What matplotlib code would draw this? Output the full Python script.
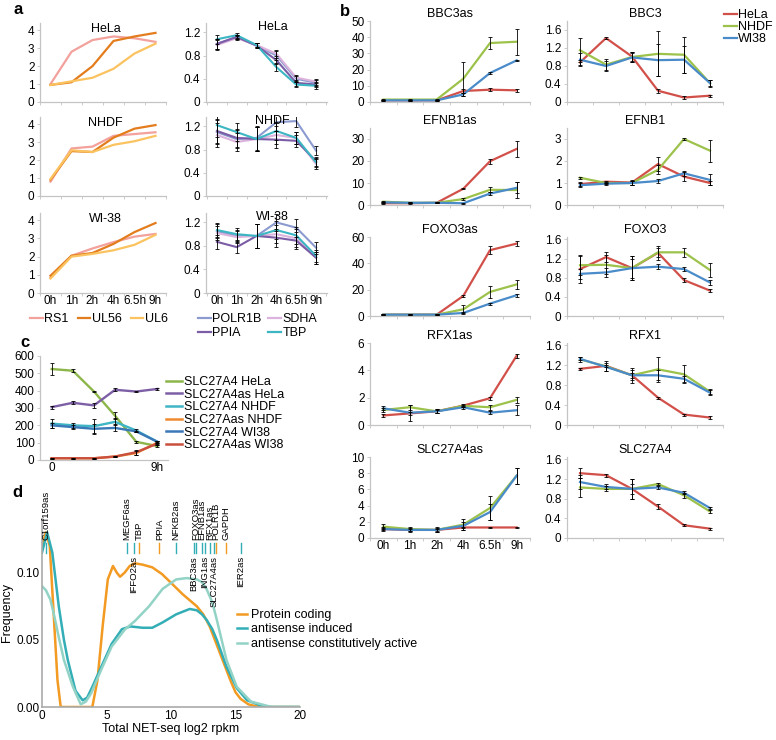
import matplotlib
matplotlib.use('Agg')
import matplotlib.pyplot as plt
from matplotlib.lines import Line2D
import numpy as np

plt.rcParams['font.family'] = ['Liberation Sans', 'DejaVu Sans']
plt.rcParams['font.size'] = 8.5

W, H = 776, 740
times = ['0h', '1h', '2h', '4h', '6.5h', '9h']
xs = np.arange(6)

# ---- panel a : viral genes (left) and housekeeping genes (right)
cells_a = ['HeLa', 'NHDF', 'WI-38']
viral_names = ['RS1', 'UL56', 'UL6']
viral_colors = ['#f3a19c', '#e37c1c', '#fbc35f']
rs1 = [[1.0, 2.8, 3.45, 3.65, 3.55, 3.35],
       [0.8, 2.65, 2.75, 3.35, 3.45, 3.55],
       [0.85, 2.05, 2.45, 2.8, 3.1, 3.25]]
ul56 = [[0.95, 1.1, 2.0, 3.4, 3.65, 3.85],
        [0.9, 2.5, 2.45, 3.25, 3.75, 3.95],
        [0.95, 2.05, 2.2, 2.7, 3.35, 3.85]]
ul6 = [[0.95, 1.15, 1.35, 1.85, 2.7, 3.25],
       [0.95, 2.55, 2.45, 2.85, 3.05, 3.35],
       [0.8, 2.0, 2.15, 2.35, 2.65, 3.2]]

hk_names = ['POLR1B', 'SDHA', 'PPIA', 'TBP']
hk_colors = ['#8b9bd0', '#dbb3dc', '#7b5ca6', '#3cb6c3']
polr1b = [[1.0, 1.12, 0.97, 0.8, 0.4, 0.33],
          [1.1, 0.98, 1.0, 1.27, 1.29, 0.78],
          [1.05, 0.97, 0.97, 1.2, 1.11, 0.77]]
sdha = [[0.98, 1.1, 0.98, 0.83, 0.42, 0.35],
        [1.05, 0.93, 0.98, 1.05, 1.0, 0.55],
        [1.02, 0.95, 0.97, 1.0, 0.93, 0.6]]
ppia = [[1.0, 1.12, 0.97, 0.72, 0.33, 0.3],
        [1.12, 1.0, 0.98, 0.97, 0.95, 0.6],
        [0.87, 0.78, 0.97, 0.94, 0.89, 0.6]]
tbp = [[1.08, 1.15, 0.98, 0.6, 0.3, 0.28],
       [1.22, 1.1, 0.98, 1.12, 1.0, 0.58],
       [1.07, 1.0, 0.97, 1.07, 0.98, 0.63]]
hk_err = [[0.08, 0.04, 0.04, 0.07, 0.05, 0.05],
          [0.2, 0.15, 0.2, 0.15, 0.1, 0.08],
          [0.12, 0.1, 0.2, 0.15, 0.15, 0.1]]

# ---- panel b : antisense (left) and sense (right) per cell line
genes_as = ['BBC3as', 'EFNB1as', 'FOXO3as', 'RFX1as', 'SLC27A4as']
genes_s = ['BBC3', 'EFNB1', 'FOXO3', 'RFX1', 'SLC27A4']
lines_b = ['HeLa', 'NHDF', 'WI38']
colors_b = ['#d2504a', '#9dc24b', '#4a8bc9']

hela_b = {'BBC3as': [1, 1, 1, 6.8, 7.6, 7.2],
          'EFNB1as': [0.8, 0.8, 1, 7.4, 19.9, 25.5],
          'FOXO3as': [1, 1, 1, 15.3, 50, 55],
          'RFX1as': [0.7, 0.85, 1.0, 1.42, 1.96, 5.07],
          'SLC27A4as': [1.1, 1.0, 1.0, 1.3, 1.3, 1.3],
          'BBC3': [0.88, 1.42, 1.01, 0.25, 0.1, 0.14],
          'EFNB1': [0.95, 1.06, 1.02, 1.86, 1.29, 1.0],
          'FOXO3': [0.98, 1.23, 1.0, 1.32, 0.75, 0.53],
          'RFX1': [1.13, 1.19, 1.0, 0.55, 0.21, 0.15],
          'SLC27A4': [1.32, 1.28, 1.0, 0.64, 0.26, 0.19]}
nhdf_b = {'BBC3as': [1.5, 1.5, 1.5, 14.4, 36.4, 37.2],
          'EFNB1as': [1.5, 1.0, 1.0, 2.7, 6.9, 6.8],
          'FOXO3as': [1, 1, 1, 5.1, 18.3, 24],
          'RFX1as': [1.1, 1.3, 1.0, 1.4, 1.3, 1.84],
          'SLC27A4as': [1.4, 1.1, 1.0, 1.65, 3.7, 7.7],
          'BBC3': [1.15, 0.83, 1.0, 1.07, 1.05, 0.42],
          'EFNB1': [1.24, 1.0, 1.0, 1.6, 3.0, 2.47],
          'FOXO3': [1.06, 1.07, 1.0, 1.33, 1.33, 0.96],
          'RFX1': [1.32, 1.18, 1.0, 1.12, 1.02, 0.67],
          'SLC27A4': [1.03, 1.0, 1.0, 1.1, 0.87, 0.54]}
wi38_b = {'BBC3as': [1, 1, 1, 4.7, 17.9, 25.7],
          'EFNB1as': [1.2, 1.0, 1.0, 0.8, 5.2, 7.8],
          'FOXO3as': [1, 1, 1, 2.3, 9.4, 15.8],
          'RFX1as': [1.22, 0.9, 1.0, 1.3, 0.9, 1.08],
          'SLC27A4as': [1.1, 1.0, 1.0, 1.5, 3.2, 7.7],
          'BBC3': [0.94, 0.8, 0.99, 0.93, 0.94, 0.42],
          'EFNB1': [0.9, 0.97, 1.0, 1.09, 1.44, 1.14],
          'FOXO3': [0.88, 0.91, 1.0, 1.03, 0.98, 0.7],
          'RFX1': [1.33, 1.17, 1.0, 1.0, 0.93, 0.65],
          'SLC27A4': [1.14, 1.04, 1.0, 1.03, 0.92, 0.61]}

hela_err = {'BBC3as': [0.3, 0.3, 0.3, 1.5, 1, 0.8],
            'EFNB1as': [0.5, 0.3, 0.3, 0.3, 1.2, 3.5],
            'FOXO3as': [0.3, 0.3, 0.3, 0.5, 3, 2],
            'RFX1as': [0.1, 0.1, 0.1, 0.1, 0.1, 0.15],
            'SLC27A4as': [0.1, 0.1, 0.1, 0.1, 0.1, 0.1],
            'BBC3': [0.05, 0.02, 0.1, 0.05, 0.03, 0.02],
            'EFNB1': [0.1, 0.05, 0.1, 0.3, 0.2, 0.1],
            'FOXO3': [0.3, 0.1, 0.25, 0.15, 0.05, 0.03],
            'RFX1': [0.02, 0.02, 0.05, 0.02, 0.02, 0.03],
            'SLC27A4': [0.1, 0.03, 0.2, 0.05, 0.02, 0.02]}
nhdf_err = {'BBC3as': [0.5, 0.5, 0.5, 10.5, 3.5, 8],
            'EFNB1as': [0.5, 0.3, 0.3, 0.5, 1.2, 3.5],
            'FOXO3as': [0.3, 0.3, 0.3, 3, 4.5, 3.5],
            'RFX1as': [0.15, 0.2, 0.15, 0.1, 0.2, 0.2],
            'SLC27A4as': [0.3, 0.2, 0.3, 0.7, 1.5, 1],
            'BBC3': [0.27, 0.12, 0.1, 0.5, 0.4, 0.08],
            'EFNB1': [0.05, 0.05, 0.1, 0.2, 0.05, 0.5],
            'FOXO3': [0.2, 0.2, 0.2, 0.1, 0.1, 0.15],
            'RFX1': [0.05, 0.1, 0.15, 0.25, 0.18, 0.05],
            'SLC27A4': [0.2, 0.05, 0.2, 0.03, 0.05, 0.03]}
wi38_err = {'BBC3as': [0.3, 0.3, 0.3, 1, 0.5, 0.5],
            'EFNB1as': [0.3, 0.2, 0.2, 0.2, 0.8, 2.5],
            'FOXO3as': [0.3, 0.3, 0.3, 0.5, 0.8, 1],
            'RFX1as': [0.15, 0.6, 0.15, 0.1, 0.1, 0.35],
            'SLC27A4as': [0.2, 0.2, 0.2, 0.5, 1, 1],
            'BBC3': [0.15, 0.12, 0.1, 0.35, 0.3, 0.06],
            'EFNB1': [0.1, 0.05, 0.1, 0.1, 0.1, 0.25],
            'FOXO3': [0.1, 0.1, 0.25, 0.05, 0.05, 0.06],
            'RFX1': [0.03, 0.08, 0.1, 0.1, 0.06, 0.05],
            'SLC27A4': [0.15, 0.05, 0.1, 0.03, 0.03, 0.02]}

ylims_as = [(0, 50, 10), (0, 35, 10), (0, 60, 20), (0, 6, 2), (0, 10, 2)]
ylims_s = [(0, 1.8, 0.4), (0, 3.5, 1), (0, 1.65, 0.4), (0, 1.65, 0.4), (0, 1.65, 0.4)]

# ---- panel c : SLC27A4 NET-seq counts
c_names = ['SLC27A4 HeLa', 'SLC27A4as HeLa', 'SLC27A4 NHDF',
           'SLC27Aas NHDF', 'SLC27A4 WI38', 'SLC27A4as WI38']
c_colors = ['#8db64a', '#7d5fa6', '#3fb5c5', '#f08a30', '#3a78b8', '#c9503f']
c_vals = [[525, 515, 395, 255, 105, 80],
          [305, 330, 315, 405, 395, 410],
          [210, 200, 195, 220, 170, 105],
          [10, 10, 10, 20, 40, 100],
          [200, 190, 180, 185, 165, 105],
          [10, 10, 10, 20, 45, 95]]
c_err = [[35, 10, 5, 20, 5, 5],
         [8, 8, 15, 8, 5, 8],
         [25, 15, 40, 20, 10, 5],
         [3, 3, 3, 5, 10, 10],
         [15, 10, 30, 20, 5, 5],
         [3, 3, 3, 5, 15, 10]]

# ---- panel d : density of total NET-seq
d_x_pc = [0, 0.3, 0.6, 0.9, 1.2, 1.45, 2, 3, 3.9, 4.3, 4.7, 5.1, 5.5, 5.8, 6.05, 6.4, 6.8, 7.2,
          7.8, 8.55, 9.3, 10, 10.9, 12, 12.5, 13, 13.4, 13.8, 14.2, 14.6, 15, 15.4, 16, 16.4, 17, 20]
d_y_pc = [0.12, 0.13, 0.12, 0.07, 0.02, 0.0, 0.0, 0.0, 0.0, 0.02, 0.06, 0.095, 0.105, 0.1, 0.097,
          0.1, 0.105, 0.107, 0.106, 0.104, 0.099, 0.0925, 0.084, 0.075, 0.069, 0.06, 0.05, 0.04,
          0.03, 0.02, 0.011, 0.006, 0.002, 0.001, 0.0, 0.0]
d_x_ind = [0, 0.4, 0.8, 1.3, 1.7, 2.0, 2.6, 3.15, 3.5, 3.9, 4.6, 5.4, 6.2, 6.85, 7.8, 8.55, 9.35,
           10.4, 11.45, 12, 12.4, 12.75, 13.2, 13.55, 14.3, 15.1, 15.9, 17, 17.8, 20]
d_y_ind = [0.115, 0.13, 0.115, 0.075, 0.05, 0.035, 0.012, 0.005, 0.007, 0.015, 0.03, 0.047, 0.058,
           0.06, 0.059, 0.059, 0.063, 0.069, 0.073, 0.072, 0.069, 0.065, 0.058, 0.05, 0.03, 0.014,
           0.005, 0.001, 0.0, 0.0]
d_x_con = [0, 0.3, 0.65, 0.9, 1.3, 1.7, 2.4, 3.0, 3.4, 3.8, 4.6, 5.4, 6.45, 7.2, 8.3, 9.35, 10.4,
           11.2, 12, 12.4, 12.75, 13.2, 13.55, 14.3, 15.1, 16.2, 17.8, 20]
d_y_con = [0.09, 0.087, 0.08, 0.07, 0.052, 0.035, 0.015, 0.002, 0.004, 0.01, 0.028, 0.045, 0.058,
           0.064, 0.075, 0.088, 0.095, 0.096, 0.095, 0.093, 0.088, 0.078, 0.065, 0.035, 0.015,
           0.004, 0.0, 0.0]
d_names = ['Protein coding', 'antisense induced', 'antisense constitutively active']
d_colors = ['#f29a22', '#33aeb6', '#92d3c6']

up_genes = ['C1orf159as', 'MEGF6as', 'TBP', 'PPIA', 'NFKB2as', 'FOXO3as', 'EFNB1as',
            'RFX1as', 'POLR1B', 'GAPDH']
up_pos = [0.3, 6.56, 7.5, 9.1, 10.4, 11.95, 12.4, 13.0, 13.5, 14.3]
up_col = ['#33aeb6', '#33aeb6', '#f29a22', '#f29a22', '#33aeb6', '#33aeb6', '#33aeb6',
          '#33aeb6', '#f29a22', '#f29a22']
low_genes = ['IFFO2as', 'BBC3as', 'ING1as', 'SLC27A4as', 'IER2as']
low_pos = [7.1, 11.8, 12.6, 13.3, 15.4]
low_col = ['#33aeb6'] * 5

fig = plt.figure(figsize=(W / 100, H / 100), dpi=100)


def add_ax(x0, y0, x1, y1):
    return fig.add_axes([x0 / W, 1 - y1 / H, (x1 - x0) / W, (y1 - y0) / H])


def excel_style(ax):
    for s in ['top', 'right']:
        ax.spines[s].set_visible(False)
    for s in ['left', 'bottom']:
        ax.spines[s].set_color('#c4c4c4')
        ax.spines[s].set_linewidth(0.9)
    ax.tick_params(colors='#c4c4c4', labelcolor='black', length=2.5, width=0.6, pad=1.5)


def cat_axis(ax, labels=None, lo=-0.5, hi=5.5):
    ax.set_xlim(lo, hi)
    ax.set_xticks(xs)
    ax.set_xticklabels(labels if labels else [])
    ax.tick_params(axis='x', which='major', length=0)
    ax.set_xticks(np.arange(-0.5, 6, 1), minor=True)
    ax.tick_params(axis='x', which='minor', length=2.5, color='#c4c4c4')


def err_line(ax, y, e, c, lw=1.6):
    ax.plot(xs, y, color=c, lw=lw, zorder=2)
    ax.errorbar(xs, y, yerr=e, fmt='none', ecolor='black', elinewidth=0.6,
                capsize=1.3, capthick=0.6, zorder=3)


# panel a
rows_a = [(23, 102), (117, 196), (213, 293)]
for i, (t, b) in enumerate(rows_a):
    ax = add_ax(40, t, 166, b)
    excel_style(ax)
    for vals, c in zip([rs1, ul56, ul6], viral_colors):
        ax.plot(xs, vals[i], color=c, lw=1.6)
    ax.set_ylim(0, 4.4)
    ax.set_yticks([0, 1, 2, 3, 4])
    cat_axis(ax, times if i == 2 else None, -0.45, 5.02)
    ax.text(0.52, 1.0, cells_a[i], transform=ax.transAxes, ha='center', va='top', fontsize=9)

    ax = add_ax(206, t, 327, b)
    excel_style(ax)
    for vals, c in zip([polr1b, sdha, ppia, tbp], hk_colors):
        err_line(ax, vals[i], hk_err[i], c, lw=1.5)
    ax.set_ylim(0, 1.36)
    ax.set_yticks([0, 0.4, 0.8, 1.2])
    ax.set_yticklabels(['0', '0.4', '0.8', '1.2'])
    cat_axis(ax, times if i == 2 else None, -0.55, 5.55)
    ax.text(0.55, 1.02, cells_a[i], transform=ax.transAxes, ha='center', va='top', fontsize=9)

h = [Line2D([], [], color=c, lw=1.6) for c in viral_colors]
fig.legend(h, viral_names, loc='upper left', bbox_to_anchor=(30 / W, 1 - 313 / H), ncol=3,
           frameon=False, handlelength=1.0, handletextpad=0.15, columnspacing=0.7,
           borderaxespad=0, borderpad=0, fontsize=9)
h = [Line2D([], [], color=hk_colors[k], lw=1.6) for k in [0, 2, 1, 3]]
fig.legend(h, [hk_names[k] for k in [0, 2, 1, 3]], loc='upper left',
           bbox_to_anchor=(198 / W, 1 - 313 / H), ncol=2, frameon=False, handlelength=1.0,
           handletextpad=0.15, columnspacing=0.5, labelspacing=0.15, borderaxespad=0,
           borderpad=0, fontsize=9)

# panel b
rows_b = [(21, 102), (128, 205), (237, 316), (343, 425), (457, 538)]
data_b = [hela_b, nhdf_b, wi38_b]
err_b = [hela_err, nhdf_err, wi38_err]
for i, (t, b) in enumerate(rows_b):
    for col, (genes, ylims, x0, x1) in enumerate([(genes_as, ylims_as, 370, 530),
                                                  (genes_s, ylims_s, 567, 723)]):
        g = genes[i]
        ax = add_ax(x0, t, x1, b)
        excel_style(ax)
        for d, e, c in zip(data_b, err_b, colors_b):
            err_line(ax, d[g], e[g], c)
        lo, hi, step = ylims[i]
        ax.set_ylim(lo, hi)
        ticks = np.arange(0, hi + 1e-9, step)
        ax.set_yticks(ticks)
        ax.set_yticklabels(['0' if v == 0 else ('%g' % v if step >= 1 else '%.1f' % v) for v in ticks])
        cat_axis(ax, times if (i == 4 and col == 0) else None)
        ax.set_title(g, fontsize=9, pad=3)

h = [Line2D([], [], color=c, lw=1.6) for c in colors_b]
fig.legend(h, lines_b, loc='upper left', bbox_to_anchor=(724 / W, 1 - 9 / H), frameon=False,
           handlelength=1.0, handletextpad=0.1, labelspacing=0.0, borderaxespad=0, borderpad=0,
           fontsize=9)

# panel c
ax = add_ax(40, 356, 168, 460)
excel_style(ax)
for vals, e, c in zip(c_vals, c_err, c_colors):
    err_line(ax, vals, e, c, lw=1.7)
ax.set_ylim(0, 600)
ax.set_yticks(range(0, 601, 100))
ax.set_xlim(-0.55, 5.5)
ax.set_xticks(xs)
ax.set_xticklabels(['0', '', '', '', '', '9h'])
ax.tick_params(axis='x', length=0)
h = [Line2D([], [], color=c, lw=1.8) for c in c_colors]
fig.legend(h, c_names, loc='upper left', bbox_to_anchor=(166 / W, 1 - 376 / H), frameon=False,
           handlelength=1.3, handletextpad=0.15, labelspacing=0.05, borderaxespad=0,
           borderpad=0, fontsize=9)

# panel d
ax = add_ax(42, 519, 300, 707)
for s in ['top', 'right']:
    ax.spines[s].set_visible(False)
for s in ['left', 'bottom']:
    ax.spines[s].set_color('#aaaaaa')
    ax.spines[s].set_linewidth(1.2)
ax.tick_params(colors='#aaaaaa', labelcolor='black', length=0, pad=2)
for xd, yd, c, n in zip([d_x_pc, d_x_ind, d_x_con], [d_y_pc, d_y_ind, d_y_con], d_colors, d_names):
    ax.plot(xd, yd, color=c, lw=1.8, label=n, solid_joinstyle='round')
ax.set_xlim(0, 20)
ax.set_ylim(0, 0.14)
ax.set_xticks([0, 5, 10, 15, 20])
ax.set_yticks([0, 0.05, 0.10])
ax.set_yticklabels(['0.00', '0.05', '0.10'])
ax.set_xlabel('Total NET-seq log2 rpkm', fontsize=9, labelpad=1)
ax.set_ylabel('Frequency', fontsize=9, labelpad=2)
for g, p, c in zip(up_genes, up_pos, up_col):
    ax.plot([p, p], [0.115, 0.1225], color=c, lw=1.0, clip_on=False)
    ax.text(p, 0.1245, g, rotation=90, ha='center', va='bottom', fontsize=6.8, clip_on=False)
for g, p, c in zip(low_genes, low_pos, low_col):
    ax.plot([p, p], [0.115, 0.1225], color=c, lw=1.0, clip_on=False)
    ax.text(p, 0.1125, g, rotation=90, ha='center', va='top', fontsize=6.8, clip_on=False)
fig.legend(*ax.get_legend_handles_labels(), loc='upper left', bbox_to_anchor=(237 / W, 1 - 609 / H),
           frameon=False, handlelength=0.8, handletextpad=0.35, labelspacing=0.2,
           borderaxespad=0, borderpad=0, fontsize=9)

for lab, x, y in [('a', 13, 2), ('b', 340, 4), ('c', 20, 335), ('d', 12, 485)]:
    fig.text(x / W, 1 - y / H, lab, fontsize=12, fontweight='bold', va='top')

fig.savefig('out.png', dpi=100)
